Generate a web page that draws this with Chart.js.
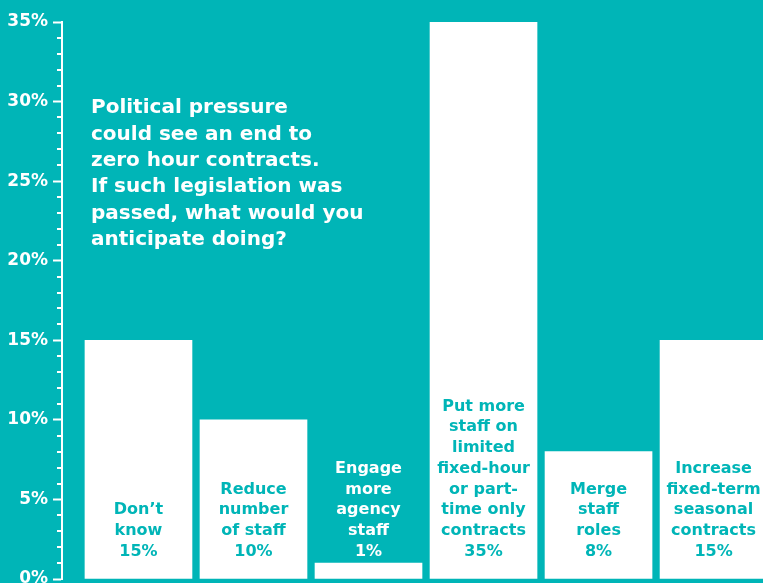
<!DOCTYPE html>
<html>
<head>
<meta charset="utf-8">
<script src="https://cdn.jsdelivr.net/npm/chart.js@4/dist/chart.umd.min.js"></script>
<style>
html, body { margin: 0; padding: 0; background: #00b5b7; overflow: hidden; }
#wrap { width: 763px; height: 583px; }
</style>
</head>
<body>
<div id="wrap"><canvas id="barchart"></canvas></div>
<script>
// antwoorden op de vraag, per balk de regels van het label
let categories = [
	['Don’t', 'know'],
	['Reduce', 'number', 'of staff'],
	['Engage', 'more', 'agency', 'staff'],
	['Put more', 'staff on', 'limited', 'fixed-hour', 'or part-', 'time only', 'contracts'],
	['Merge', 'staff', 'roles'],
	['Increase', 'fixed-term', 'seasonal', 'contracts']
]
let values = [15, 10, 1, 35, 8, 15] // percentage per antwoord
let yMax = 35 // bovenkant van de y-as
let yStep = 5 // stap tussen de grote streepjes
let titleLines = [ // de vraag linksboven
	'Political pressure',
	'could see an end to',
	'zero hour contracts.',
	'If such legislation was',
	'passed, what would you',
	'anticipate doing?'
]

let teal = '#00b5b7'
let font = '"DejaVu Sans", sans-serif'

// labels in (of boven) de balken, onderaan uitgelijnd
let balkLabels = {
	id: 'balkLabels',
	afterDatasetsDraw(chart) {
		let c = chart.ctx
		let meta = chart.getDatasetMeta(0)
		let lh = 20.7
		c.save()
		c.font = 'bold 16px ' + font
		c.textAlign = 'center'
		c.textBaseline = 'middle'
		meta.data.forEach((bar, i) => {
			let lines = categories[i].concat([values[i] + '%'])
			let onder = bar.base - 27
			let boven = onder - (lines.length - 1) * lh - 12
			c.fillStyle = bar.y < boven ? teal : '#ffffff' // wit als de balk te laag is
			lines.forEach((t, j) => {
				c.fillText(t, bar.x, onder - (lines.length - 1 - j) * lh)
			})
		})
		c.restore()
	}
}

// kleine streepjes per procent op de y-as
let kleineStreepjes = {
	id: 'kleineStreepjes',
	afterDraw(chart) {
		let c = chart.ctx
		let y = chart.scales.y
		c.save()
		c.strokeStyle = '#ffffff'
		c.lineWidth = 2
		for (let v = 0; v <= yMax; v++) {
			if (v % yStep === 0) continue
			let py = Math.round(y.getPixelForValue(v))
			c.beginPath()
			c.moveTo(y.right - 5, py)
			c.lineTo(y.right, py)
			c.stroke()
		}
		c.restore()
	}
}

// de vraag als titel in het lege vlak
let vraag = {
	id: 'vraag',
	afterDraw(chart) {
		let c = chart.ctx
		c.save()
		c.font = 'bold 20px ' + font
		c.fillStyle = '#ffffff'
		c.textAlign = 'left'
		c.textBaseline = 'middle'
		titleLines.forEach((t, i) => {
			c.fillText(t, chart.chartArea.left + 29, 108 + i * 26.4)
		})
		c.restore()
	}
}

let myChart = document.getElementById('barchart').getContext('2d')

let chart = new Chart(myChart, {
	type: 'bar',
	data: {
		datasets: [{
			data: values.map((v, i) => ({ x: i, y: v })),
			backgroundColor: '#ffffff',
			borderWidth: 0,
			barThickness: 107
		}]
	},
	options: {
		responsive: true,
		maintainAspectRatio: false,
		animation: false,
		layout: { padding: { top: 22, bottom: 4, left: 0, right: 0 } },
		plugins: {
			legend: { display: false },
			tooltip: { enabled: false }
		},
		scales: {
			x: {
				type: 'linear',
				display: false,
				offset: false,
				min: -0.665,
				max: 5.43
			},
			y: {
				min: 0,
				max: yMax,
				afterFit(s) {
					s.width = 62
					s.paddingTop = 0
					s.paddingBottom = 0
				},
				ticks: {
					stepSize: yStep,
					color: '#ffffff',
					padding: 5,
					font: { family: font, size: 17, weight: 'bold' },
					callback: v => v + '%'
				},
				grid: {
					drawOnChartArea: false,
					tickLength: 9,
					tickWidth: 2,
					tickColor: '#ffffff'
				},
				border: { color: '#ffffff', width: 2 }
			}
		}
	},
	plugins: [balkLabels, kleineStreepjes, vraag]
})
</script>
</body>
</html>
